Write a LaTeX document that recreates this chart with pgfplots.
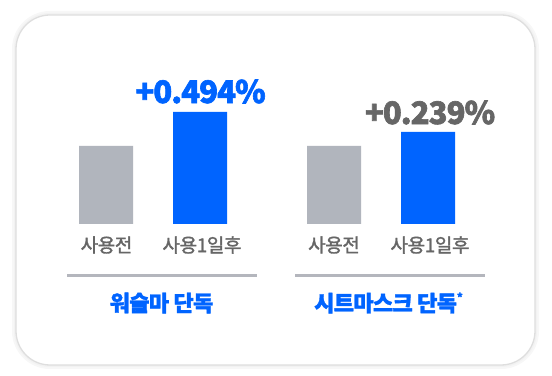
\documentclass[border=0pt]{standalone}
\usepackage{pgfplots}
\pgfplotsset{compat=1.18}
\usepackage{fontspec}
\setmainfont{Noto Sans CJK KR}
\newfontfamily\medfont{Noto Sans CJK KR}[FakeBold=1.6, LetterSpace=-2]
\newfontfamily\heavyfont{Noto Sans CJK KR}[BoldFeatures={FakeBold=2}, LetterSpace=-3]
\newfontfamily\grpfont{Noto Sans CJK KR}[BoldFeatures={FakeBold=1.6}, LetterSpace=-3]
\definecolor{barblue}{HTML}{0064FF}
\definecolor{bargray}{HTML}{B1B5BD}
\definecolor{txtgray}{HTML}{666666}
\definecolor{linegray}{HTML}{B4B6BD}
\begin{document}
\begin{tikzpicture}
\begin{axis}[
  width=552bp, height=376bp, scale only axis,
  xmin=0, xmax=552, ymin=-152, ymax=224,
  hide axis, clip=false,
  ybar, bar width=54bp,
]
\path (0,-152) rectangle (552,224);
% outer rounded box with soft shadow
\draw[black!3, line width=8bp, rounded corners=34bp] (16,209) rectangle (535,-141);
\draw[black!5, line width=4bp, rounded corners=34bp] (16,209) rectangle (535,-141);
\draw[black!13, line width=1.3bp, fill=white, rounded corners=34bp] (16,209) rectangle (535,-141);
% bars
\addplot[fill=bargray, draw=none, bar shift=0pt] coordinates {(106,78) (334,78)};
\addplot[fill=barblue, draw=none, bar shift=0pt] coordinates {(200,112) (428,92)};
% value labels
\node[text=barblue, font=\heavyfont\fontsize{31bp}{34bp}\selectfont\bfseries] at (200.5,132.5) {+0.494\%};
\node[text=txtgray, font=\heavyfont\fontsize{31bp}{34bp}\selectfont\bfseries] at (430,111.5) {+0.239\%};
% category labels
\node[text=txtgray, font=\medfont\fontsize{19bp}{21bp}\selectfont] at (106.5,-21) {사용전};
\node[text=txtgray, font=\medfont\fontsize{19bp}{21bp}\selectfont] at (202,-21) {사용1일후};
\node[text=txtgray, font=\medfont\fontsize{19bp}{21bp}\selectfont] at (334,-21) {사용전};
\node[text=txtgray, font=\medfont\fontsize{19bp}{21bp}\selectfont] at (430,-21) {사용1일후};
% separators
\draw[linegray, line width=3bp] (67,-52) -- (257,-52);
\draw[linegray, line width=3bp] (295,-52) -- (485,-52);
% group labels
\node[text=barblue, font=\grpfont\fontsize{22bp}{25bp}\selectfont\bfseries] at (161.5,-79) {워슬마 단독};
\node[text=barblue, font=\grpfont\fontsize{22bp}{25bp}\selectfont\bfseries] at (388.5,-79) {시트마스크 단독\raisebox{0.45em}{\fontsize{11bp}{12bp}\selectfont *}};
\end{axis}
\end{tikzpicture}
\end{document}
